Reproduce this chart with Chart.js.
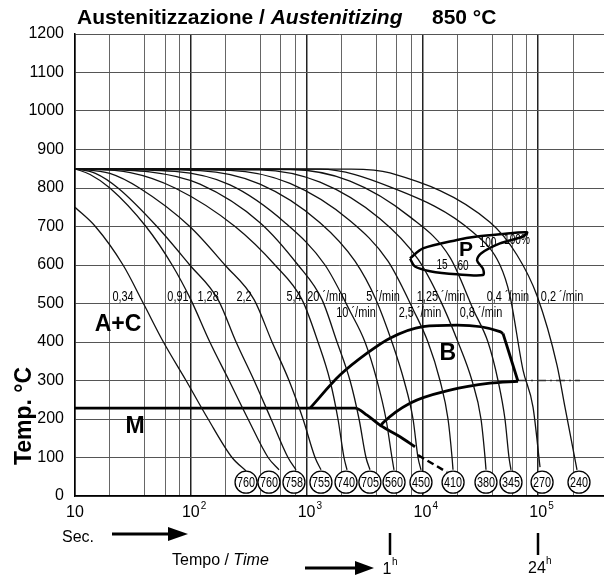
<!DOCTYPE html>
<html>
<head>
<meta charset="utf-8">
<script src="https://cdn.jsdelivr.net/npm/chart.js@4.4.0/dist/chart.umd.min.js"></script>
<style>
  html, body { margin: 0; padding: 0; background: #fff; }
</style>
</head>
<body>
<canvas id="cct" width="604" height="575"></canvas>
<script>
// axis ticks
const tempTicks = [0, 100, 200, 300, 400, 500, 600, 700, 800, 900, 1000, 1100, 1200];
const timeGrid = [10, 20, 40, 60, 80, 100, 200, 400, 600, 800, 1000, 2000, 4000, 6000, 8000,
                  10000, 20000, 40000, 60000, 80000, 100000, 200000];
const timeDecades = [10, 100, 1000, 10000, 100000];

// cooling curves [seconds, °C], left to right
const cool034 = [[10,750],[15,700],[26,600],[39,500],[58,400],[91,300],[141,200],[227,100],[300,65]];
const cool091 = [[10,850],[13.5,835],[20,800],[41,700],[69,600],[100,510],[146,400],[214,300],[312,200],[465,100],[578,68]];
const cool128 = [[10,850],[15,838],[23.5,800],[51,700],[98,600],[172,510],[246,400],[352,300],[493,200],[691,100],[810,68]];
const cool22  = [[10,850],[20,838],[36,800],[98,700],[197,600],[352,510],[503,400],[705,300],[931,200],[1183,100],[1332,68]];
const cool54  = [[10,850],[30,840],[73,800],[241,700],[533,600],[913,510],[1254,400],[1592,300],[1866,200],[2103,100],[2234,68]];
const cool20  = [[10,850],[44,842],[120,810],[396,710],[843,600],[1358,510],[1831,400],[2372,300],[2837,200],[3258,100],[3527,68]];
const cool10  = [[10,850],[73,843],[218,808],[651,710],[1442,600],[2372,480],[3193,400],[4055,300],[4848,200],[5458,100],[5683,68]];
const cool5   = [[10,850],[120,845],[396,810],[1306,710],[2618,610],[3972,510],[5458,400],[6937,300],[8298,200],[9161,100],[9727,68]];
const cool25  = [[10,850],[218,846],[719,812],[2372,715],[5046,610],[8456,480],[11170,400],[14190,300],[16640,200],[18030,100],[18380,68]];
const cool125 = [[10,850],[396,847],[1306,815],[4303,720],[9161,615],[14190,510],[20290,400],[26790,300],[32060,200],[34740,100],[35420,68]];
const cool08  = [[10,850],[719,848],[2372,818],[7810,725],[17300,620],[27910,480],[36840,400],[44980,300],[51640,200],[55950,100],[58200,68]];
const cool04  = [[10,850],[1306,849],[5248,803],[27350,685],[46770,600],[57030,520],[73950,327],[90200,231],[103700,75]];
const cool02  = [[10,850],[2372,849],[5248,839],[38340,711],[65600,626],[97700,520],[145300,340],[170300,231],[216300,68]];

const coolingCurves = [cool034, cool091, cool128, cool22, cool54, cool20, cool10, cool5, cool25, cool125, cool08, cool04, cool02];

// hardness HV at the end of each curve
const hardness = [760, 760, 758, 755, 740, 705, 560, 450, 410, 380, 345, 270, 240];
const hardnessTimes = [300, 473, 778, 1330, 2190, 3520, 5690, 9720, 18400, 35400, 58200, 108000, 225000];
const hardnessTemp = 36;

// transformation lines
const msLine   = [[10,228],[2618,228],[3327,210],[4303,184],[6412,154],[8630,128]];
const msDash   = [[9161,106],[16300,62]];
const bsArc    = [[1070,228],[1942,314],[3327,371],[5248,410],[10120,440],[19900,444],[46770,427],[49660,422]];
const bsEdge   = [[49660,422],[66900,298]];
const bfLine   = [[4303,180],[4570,190],[7810,241],[17300,275],[38340,293],[66900,298]];
const bfDash   = [[66900,300],[229600,300]];
const pRegion  = [[7810,617],[10120,643],[19900,665],[29640,674],[46770,680],[80000,685],[73950,674],
                  [46770,656],[32060,630],[29640,612],[33370,590],[33370,574],[19900,576],[11640,584],[8630,596],[7810,617]];

// cooling-rate labels: text, seconds, °C
const rateText = ["0,34","0,91","1,28","2,2","5,4","20 \u00b4/min","5 \u00b4/min","1,25 \u00b4/min","0,4 \u00b4/min","0,2 \u00b4/min",
                  "10 \u00b4/min","2,5 \u00b4/min","0,8 \u00b4/min"];
const rateTime = [26, 77.5, 141, 288, 778, 1500, 4570, 14490, 54800, 160700, 2671, 9530, 32060];
const rateTemp = [517, 517, 517, 517, 517, 517, 517, 517, 517, 517, 475, 475, 475];

// small numbers inside the pearlite field: text, seconds, °C
const pctText = ["15", "60", "100", "100%"];
const pctTime = [14760, 22430, 36840, 65600];
const pctTemp = [599, 596, 657, 665];

// phase fields: text, seconds, °C
const fieldText = ["A+C", "M", "B", "P"];
const fieldTime = [23.5, 33, 16600, 23800];
const fieldTemp = [444, 179, 370, 639];

const toXY = arr => arr.map(p => ({ x: p[0], y: p[1] }));

const datasets = [];
datasets.push({
    data: hardnessTimes.map(t => ({ x: t, y: hardnessTemp })),
    showLine: false,
    pointRadius: 11,
    pointBackgroundColor: "#fff",
    pointBorderColor: "#000",
    pointBorderWidth: 1.3
});
coolingCurves.forEach(c => datasets.push({
    data: toXY(c), showLine: true, pointRadius: 0, borderColor: "#111", borderWidth: 1.3,
    cubicInterpolationMode: "monotone"
}));
datasets.push({ data: toXY(msLine), showLine: true, pointRadius: 0, borderColor: "#000", borderWidth: 2.8, cubicInterpolationMode: "monotone" });
datasets.push({ data: toXY(msDash), showLine: true, pointRadius: 0, borderColor: "#000", borderWidth: 2.5, borderDash: [7, 4] });
datasets.push({ data: toXY(bsArc), showLine: true, pointRadius: 0, borderColor: "#000", borderWidth: 2.8, cubicInterpolationMode: "monotone" });
datasets.push({ data: toXY(bsEdge), showLine: true, pointRadius: 0, borderColor: "#000", borderWidth: 2.8 });
datasets.push({ data: toXY(bfLine), showLine: true, pointRadius: 0, borderColor: "#000", borderWidth: 2.8, cubicInterpolationMode: "monotone" });
datasets.push({ data: toXY(bfDash), showLine: true, pointRadius: 0, borderColor: "#333", borderWidth: 1.3, borderDash: [9, 4, 2, 4] });
datasets.push({ data: toXY(pRegion), showLine: true, pointRadius: 0, borderColor: "#000", borderWidth: 2.5, tension: 0.3 });

const sans = '"Liberation Sans", Arial, sans-serif';

// condensed text, the chart uses a narrow typeface for its numbers
function narrowText(ctx, text, x, y, size, squeeze) {
    ctx.save();
    ctx.translate(x, y);
    ctx.scale(squeeze, 1);
    ctx.font = size + "px " + sans;
    ctx.fillText(text, 0, 0);
    ctx.restore();
}

const textPlugin = {
    id: "texts",
    afterDraw(chart) {
        const ctx = chart.ctx;
        const xs = chart.scales.x, ys = chart.scales.y;
        ctx.save();
        ctx.fillStyle = "#000";
        ctx.strokeStyle = "#000";

        // title
        ctx.textBaseline = "alphabetic";
        ctx.textAlign = "left";
        ctx.font = "bold 21px " + sans;
        const part1 = "Austenitizzazione / ";
        ctx.fillText(part1, 77, 24);
        const w1 = ctx.measureText(part1).width;
        ctx.font = "italic bold 21px " + sans;
        ctx.fillText("Austenitizing", 77 + w1, 24);
        ctx.font = "bold 21px " + sans;
        ctx.fillText("850 \u00b0C", 432, 24);

        // y axis title
        ctx.save();
        ctx.translate(31, 416);
        ctx.rotate(-Math.PI / 2);
        ctx.textAlign = "center";
        ctx.font = "bold 23px " + sans;
        ctx.fillText("Temp. \u00b0C", 0, 0);
        ctx.restore();

        // x tick labels 10, 10², ...
        timeDecades.forEach((v, i) => {
            const px = xs.getPixelForValue(v);
            ctx.font = "16px " + sans;
            ctx.textAlign = "center";
            ctx.fillText("10", px, 517);
            if (i > 0) {
                ctx.font = "10px " + sans;
                ctx.textAlign = "left";
                ctx.fillText(String(i + 1), px + 10, 509);
            }
        });

        // Sec. arrow
        ctx.textAlign = "left";
        ctx.font = "16px " + sans;
        ctx.fillText("Sec.", 62, 542);
        ctx.lineWidth = 3;
        ctx.beginPath(); ctx.moveTo(112, 534); ctx.lineTo(172, 534); ctx.stroke();
        ctx.beginPath(); ctx.moveTo(188, 534); ctx.lineTo(168, 527); ctx.lineTo(168, 541); ctx.closePath(); ctx.fill();

        // Tempo / Time arrow
        ctx.font = "16px " + sans;
        ctx.fillText("Tempo / ", 172, 565);
        const w = ctx.measureText("Tempo / ").width;
        ctx.font = "italic 16px " + sans;
        ctx.fillText("Time", 172 + w, 565);
        ctx.beginPath(); ctx.moveTo(305, 568); ctx.lineTo(358, 568); ctx.stroke();
        ctx.beginPath(); ctx.moveTo(374, 568); ctx.lineTo(355, 561); ctx.lineTo(355, 575); ctx.closePath(); ctx.fill();

        // 1h and 24h marks
        ctx.lineWidth = 2.5;
        ctx.beginPath(); ctx.moveTo(390, 533); ctx.lineTo(390, 555); ctx.stroke();
        ctx.beginPath(); ctx.moveTo(538, 533); ctx.lineTo(538, 555); ctx.stroke();
        ctx.font = "16px " + sans;
        ctx.textAlign = "center";
        ctx.fillText("1", 387, 574);
        ctx.fillText("24", 537, 573);
        ctx.font = "10px " + sans;
        ctx.textAlign = "left";
        ctx.fillText("h", 392, 565);
        ctx.fillText("h", 546, 564);

        // hardness values in circles
        ctx.textAlign = "center";
        ctx.textBaseline = "middle";
        hardness.forEach((h, i) => {
            narrowText(ctx, String(h), xs.getPixelForValue(hardnessTimes[i]), ys.getPixelForValue(hardnessTemp) + 1, 15, 0.72);
        });

        // cooling rates
        rateText.forEach((t, i) => {
            narrowText(ctx, t, xs.getPixelForValue(rateTime[i]), ys.getPixelForValue(rateTemp[i]), 14, 0.78);
        });

        // pearlite percentages
        pctText.forEach((t, i) => {
            narrowText(ctx, t, xs.getPixelForValue(pctTime[i]), ys.getPixelForValue(pctTemp[i]), 14, 0.72);
        });

        // phase fields
        fieldText.forEach((t, i) => {
            ctx.font = (t === "P" ? "bold 21px " : "bold 23px ") + sans;
            ctx.fillText(t, xs.getPixelForValue(fieldTime[i]), ys.getPixelForValue(fieldTemp[i]));
        });

        ctx.restore();
    }
};

new Chart(document.getElementById("cct"), {
    type: "scatter",
    data: { datasets: datasets },
    options: {
        responsive: false,
        animation: false,
        layout: { autoPadding: false, padding: { left: 0, right: 0, top: 34, bottom: 49 } },
        plugins: { legend: { display: false }, tooltip: { enabled: false } },
        scales: {
            x: {
                type: "logarithmic",
                min: 10,
                max: 370000,
                afterBuildTicks: s => { s.ticks = timeGrid.map(v => ({ value: v })); },
                afterFit: s => { s.height = 30; },
                ticks: { display: false },
                grid: {
                    drawTicks: false,
                    color: c => timeDecades.includes(c.tick && c.tick.value) ? "#222" : "#666",
                    lineWidth: c => timeDecades.includes(c.tick && c.tick.value) ? 1.5 : 1
                },
                border: { color: "#000", width: 1.5 }
            },
            y: {
                min: 0,
                max: 1200,
                afterBuildTicks: s => { s.ticks = tempTicks.map(v => ({ value: v })); },
                afterFit: s => { s.width = 75; },
                ticks: { color: "#000", font: { family: sans, size: 16 }, padding: 11, callback: v => String(v) },
                grid: { drawTicks: false, color: "#555", lineWidth: 1 },
                border: { color: "#000", width: 1.5 }
            }
        }
    },
    plugins: [textPlugin]
});
</script>
</body>
</html>
